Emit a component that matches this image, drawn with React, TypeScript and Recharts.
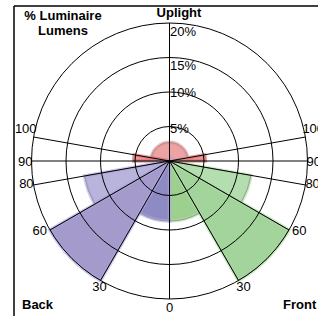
import React from 'react';
import { RadarChart, PolarGrid, PolarRadiusAxis, Pie } from 'recharts';

document.body.style.margin = '0';

// BUG zones, angle measured from nadir going round through the Front side (0..360)
const zoneNames = ['FL', 'FM', 'FH', 'UL front', 'UH', 'UL back', 'BH', 'BM', 'BL'];
const zoneFrom = [0, 30, 60, 90, 100, 260, 280, 300, 330];
const zoneTo = [30, 60, 80, 100, 260, 270, 300, 330, 360];
const zonePercent = [8.7, 20, 12.0, 5.2, 2.7, 5.2, 12.5, 20, 8.7];

const angleTicks = [0, 30, 60, 80, 90, 100, 180, 260, 270, 280, 300, 330];
const percentTicks = [5, 10, 15, 20];
const percentMax = 20;

const W = 318;
const H = 316;
const CX = 169.5;
const CY = 161;
const OUTER = 138;
const FONT = '"Liberation Sans", Arial, sans-serif';

const zoneFill: Record<string, string> = {
  FL: '#9dcf8e',
  FM: '#a3d49b',
  FH: '#b4ddb0',
  'UL front': '#e99a9c',
  UH: '#eba3a4',
  'UL back': '#e99a9c',
  BH: '#b8b4dc',
  BM: '#a49bcc',
  BL: '#8e8ac4',
};
const zoneGlow: Record<string, string> = {
  FL: '#a8e09c',
  FM: '#a8e09c',
  FH: '#a8e09c',
  'UL front': '#ee5f60',
  UH: '#ef8c8d',
  'UL back': '#ee5f60',
  BH: '#aba4e4',
  BM: '#aba4e4',
  BL: '#aba4e4',
};

// nadir angle -> recharts angle (0 = 3 o'clock, counter-clockwise)
const toChartAngle = (d: number) => -90 + d;

// small nudges for the angle labels: [dx away from the centre line, dy]
const angleNudge: Record<number, [number, number]> = {
  0: [0, 8],
  30: [3, 6],
  60: [3, 0],
  80: [0, -1],
  90: [-1, 0],
  100: [-3, -9],
};
const percentNudge: Record<number, number> = { 5: 1.5, 10: 0, 15: 8, 20: 8 };

const PercentTick = (props: any) => {
  const { x, y, payload } = props;
  return (
    <text
      x={x + 0.5}
      y={y + (percentNudge[payload.value] ?? 0)}
      textAnchor="start"
      dominantBaseline="central"
      fontSize={13}
      fontFamily={FONT}
      fill="#000"
    >
      {payload.value}%
    </text>
  );
};

function AngleLabels() {
  return (
    <g fontSize={13} fontFamily={FONT} fill="#000">
      {angleTicks.map((d) => {
        const label = d <= 180 ? d : 360 - d;
        if (label === 180) return null;
        const side = d === 0 ? 0 : d < 180 ? 1 : -1;
        const a = (toChartAngle(d) * Math.PI) / 180;
        const ex = CX + OUTER * Math.cos(a);
        const ey = CY - OUTER * Math.sin(a);
        const [dx, dy] = angleNudge[label];
        const anchor = label <= 30 ? 'middle' : side > 0 ? 'start' : 'end';
        return (
          <text
            key={d}
            x={ex + side * dx + (label === 30 ? 2 : 0)}
            y={ey + dy}
            textAnchor={anchor}
            dominantBaseline="central"
          >
            {label}
          </text>
        );
      })}
    </g>
  );
}

export default function App() {
  const zones = zoneNames.map((name, i) => ({
    name,
    from: zoneFrom[i],
    to: zoneTo[i],
    pct: zonePercent[i],
  }));
  const radiusOf = (pct: number) => (pct / percentMax) * OUTER;

  return (
    <div style={{ position: 'relative', width: W, height: H, fontFamily: FONT }}>
      <RadarChart
        width={W}
        height={H}
        cx={CX}
        cy={CY}
        outerRadius={OUTER}
        startAngle={-90}
        endAngle={270}
        margin={{ top: 0, right: 0, bottom: 0, left: 0 }}
        data={zones}
      >
        {zones.map((z) => (
          <Pie
            key={'fill-' + z.name}
            data={[{ name: z.name, value: 1 }]}
            dataKey="value"
            cx={CX}
            cy={CY}
            startAngle={toChartAngle(z.from)}
            endAngle={toChartAngle(z.to)}
            outerRadius={radiusOf(z.pct)}
            fill={zoneFill[z.name]}
            stroke={zoneGlow[z.name]}
            strokeWidth={3.5}
            strokeOpacity={0.6}
            isAnimationActive={false}
          />
        ))}
        {zones.map((z) => (
          <Pie
            key={'edge-' + z.name}
            data={[{ name: z.name, value: 1 }]}
            dataKey="value"
            cx={CX}
            cy={CY}
            startAngle={toChartAngle(z.from)}
            endAngle={toChartAngle(z.to)}
            outerRadius={radiusOf(z.pct)}
            fill="none"
            stroke="#9a9a9a"
            strokeWidth={1}
            isAnimationActive={false}
          />
        ))}
        <PolarGrid
          gridType="circle"
          polarAngles={angleTicks.map(toChartAngle)}
          stroke="#000"
          strokeWidth={1}
          zIndex={600}
        />
        <PolarRadiusAxis
          type="number"
          angle={90}
          domain={[0, percentMax]}
          ticks={percentTicks}
          axisLine={false}
          tickLine={false}
          tick={PercentTick}
          zIndex={700}
        />
      </RadarChart>
      <svg
        width={W}
        height={H}
        style={{ position: 'absolute', left: 0, top: 0, pointerEvents: 'none' }}
      >
        <AngleLabels />
        <line x1={14} y1={6} x2={W} y2={6} stroke="#000" strokeWidth={1.5} />
        <line x1={14} y1={6} x2={14} y2={H} stroke="#000" strokeWidth={1.5} />
        <g fontFamily={FONT} fontWeight="bold" fontSize={13} fill="#000">
          <text x={63} y={20} textAnchor="middle">% Luminaire</text>
          <text x={63} y={35} textAnchor="middle">Lumens</text>
          <text x={179} y={17} textAnchor="middle">Uplight</text>
          <text x={22} y={309}>Back</text>
          <text x={283} y={309}>Front</text>
        </g>
      </svg>
    </div>
  );
}
